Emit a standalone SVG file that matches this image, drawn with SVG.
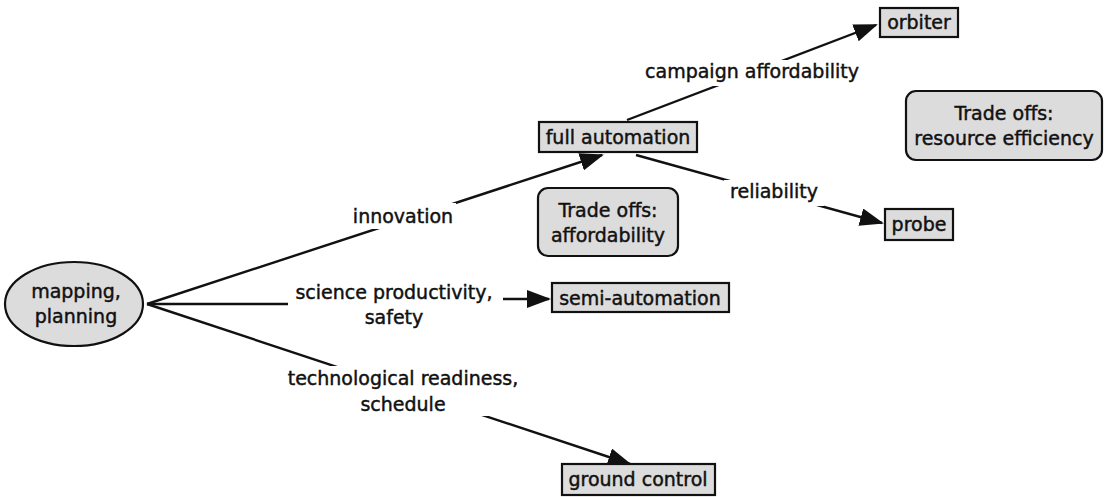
<svg xmlns="http://www.w3.org/2000/svg" width="1107" height="497" viewBox="0 0 1107 497">
<style>
text{font-family:"DejaVu Sans","Verdana",sans-serif;font-size:19px;fill:#111;stroke:#111;stroke-width:0.45;text-anchor:middle}
.box{fill:#dcdcdc;stroke:#111;stroke-width:2.2}
.ln{stroke:#111;stroke-width:2.4;fill:none}
.lbl{fill:#fff}
</style>
<defs>
<marker id="ah" markerWidth="24" markerHeight="18" refX="22" refY="9" orient="auto" markerUnits="userSpaceOnUse">
<path d="M0,0 L24,9 L0,18 Z" fill="#111"/>
</marker>
</defs>
<rect width="1107" height="497" fill="#fff"/>
<g id="connectors">
<path class="ln" d="M147,304 L602,155" marker-end="url(#ah)"/>
<path class="ln" d="M627,120 L876,25" marker-end="url(#ah)"/>
<path class="ln" d="M636,155 L882,223" marker-end="url(#ah)"/>
<path class="ln" d="M147,304 L288,304"/>
<path class="ln" d="M503,299 L549,299" marker-end="url(#ah)"/>
<path class="ln" d="M147,304 L630,464" marker-end="url(#ah)"/>
<rect class="lbl" x="350" y="203" width="106" height="26"/>
<rect class="lbl" x="640" y="60" width="226" height="26"/>
<rect class="lbl" x="724" y="180" width="100" height="26"/>
<rect class="lbl" x="284" y="366" width="240" height="50"/>
<text x="403" y="223">innovation</text>
<text x="752" y="78">campaign affordability</text>
<text x="774" y="198">reliability</text>
<text x="394" y="299">science productivity,</text>
<text x="394" y="324">safety</text>
<text x="403" y="385">technological readiness,</text>
<text x="403" y="411">schedule</text>
</g>
<g id="mapping">
<ellipse class="box" cx="74" cy="304" rx="69" ry="42"/>
<text x="76" y="298">mapping,</text>
<text x="76" y="323">planning</text>
</g>
<g id="full-automation">
<rect class="box" x="539" y="122" width="158" height="30"/>
<text x="618" y="144">full automation</text>
</g>
<g id="orbiter">
<rect class="box" x="880" y="8" width="78" height="29"/>
<text x="919" y="29">orbiter</text>
</g>
<g id="probe">
<rect class="box" x="885" y="209" width="68" height="31"/>
<text x="919" y="231">probe</text>
</g>
<g id="semi-automation">
<rect class="box" x="552" y="283" width="177" height="29"/>
<text x="640" y="305">semi-automation</text>
</g>
<g id="ground-control">
<rect class="box" x="562" y="464" width="153" height="31"/>
<text x="638" y="486">ground control</text>
</g>
<g id="tradeoffs-affordability">
<rect class="box" x="538" y="188" width="140" height="68" rx="10"/>
<text x="608" y="217">Trade offs:</text>
<text x="608" y="242">affordability</text>
</g>
<g id="tradeoffs-resource">
<rect class="box" x="906" y="91" width="196" height="69" rx="10"/>
<text x="1004" y="120">Trade offs:</text>
<text x="1004" y="145">resource efficiency</text>
</g>
</svg>
